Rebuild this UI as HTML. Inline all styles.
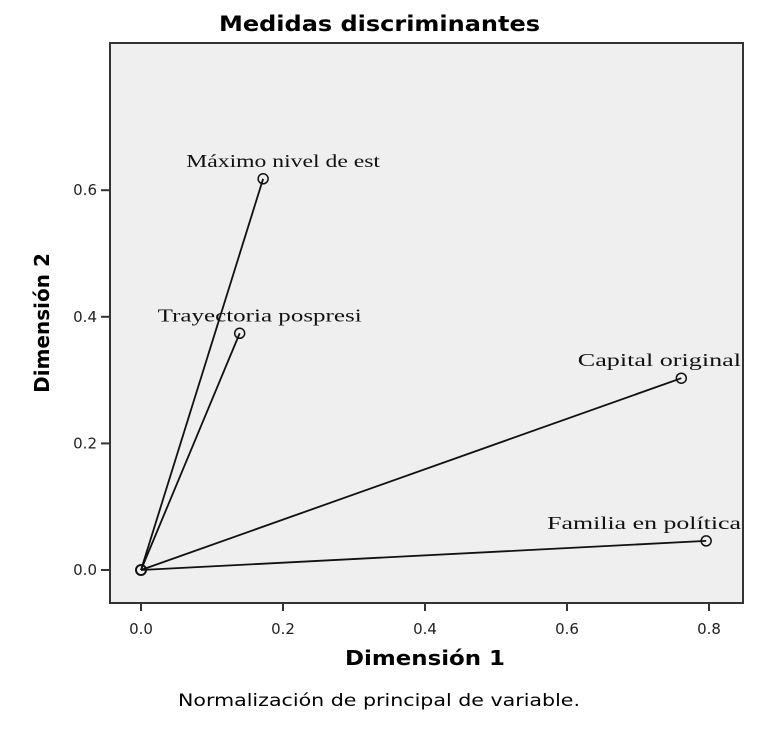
<!DOCTYPE html>
<html><head><meta charset="utf-8"><style>
body{margin:0;background:#fff;width:783px;height:726px;overflow:hidden}
</style></head><body>
<svg width="783" height="726" xmlns="http://www.w3.org/2000/svg">
<text x="219" y="31" textLength="321" lengthAdjust="spacingAndGlyphs" font-family="'DejaVu Sans',sans-serif" font-weight="bold" font-size="21">Medidas discriminantes</text>
<rect x="110" y="43" width="633" height="560" fill="#efefef" stroke="#333" stroke-width="2"/>
<g id="axes"></g>
<g id="marks"></g>
<text x="345" y="665" textLength="160" lengthAdjust="spacingAndGlyphs" font-family="'DejaVu Sans',sans-serif" font-weight="bold" font-size="20">Dimensión 1</text>
<text transform="translate(49,323) rotate(-90)" text-anchor="middle" font-family="'DejaVu Sans',sans-serif" font-weight="bold" font-size="20">Dimensión 2</text>
<text x="178" y="706" textLength="402" lengthAdjust="spacingAndGlyphs" font-family="'DejaVu Sans',sans-serif" font-size="17">Normalización de principal de variable.</text>
</svg>
<script>
const labels=["Máximo nivel de est","Trayectoria pospresi","Capital original","Familia en política"];
const dim1=[0.172,0.139,0.761,0.796];
const dim2=[0.618,0.374,0.303,0.046];
const xTicks=[0,0.2,0.4,0.6,0.8];
const yTicks=[0,0.2,0.4,0.6];
const sx=v=>141+v*710, sy=v=>570-v*633;
const NS="http://www.w3.org/2000/svg";
function mk(t,a,p){const e=document.createElementNS(NS,t);for(const k in a)e.setAttribute(k,a[k]);p.appendChild(e);return e;}
const ax=document.getElementById('axes'), mg=document.getElementById('marks');
xTicks.forEach(t=>{
 const l=mk('line',{x1:sx(t),x2:sx(t),y1:603,y2:611,stroke:'#333','stroke-width':2},ax);
 
 
 const tx=mk('text',{x:sx(t),y:634,'text-anchor':'middle','font-family':'DejaVu Sans,sans-serif','font-size':15,fill:'#222'},ax);
 tx.textContent=t.toFixed(1);
 
 
});
yTicks.forEach(t=>{
 const l=mk('line',{x1:101,x2:110,y1:sy(t),y2:sy(t),stroke:'#333','stroke-width':2},ax);
 
 
 const tx=mk('text',{x:97,y:sy(t)+5,'text-anchor':'end','font-family':'DejaVu Sans,sans-serif','font-size':15,fill:'#222'},ax);
 tx.textContent=t.toFixed(1);
 
 
});
labels.forEach((n,i)=>{
 const x=sx(dim1[i]),y=sy(dim2[i]);
 const l=mk('line',{x1:sx(0),y1:sy(0),x2:x,y2:y,stroke:'#111','stroke-width':1.8},mg);
 
 
 const c=mk('circle',{cx:x,cy:y,r:5,fill:'none',stroke:'#111','stroke-width':1.5},mg);
 
 
 const w=n.length*10.2;
 let left=x+20-w/2; if(left+w>741) left=741-w;
 const tx=mk('text',{x:left,y:y-12,textLength:w,lengthAdjust:'spacingAndGlyphs','font-family':'Liberation Serif,serif','font-size':18,fill:'#111'},mg);
 tx.textContent=n;
 
 
});
const o=mk('circle',{cx:sx(0),cy:sy(0),r:5,fill:'none',stroke:'#111','stroke-width':2},mg);


</script>
</body></html>
